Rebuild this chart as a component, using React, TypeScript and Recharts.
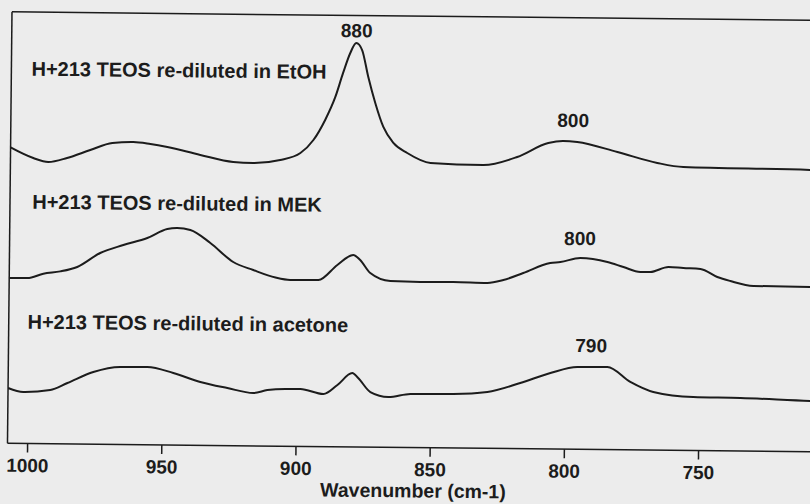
import { LineChart, Line, XAxis, YAxis, ReferenceLine, ReferenceDot, Label } from "recharts";

// wavenumbers (cm-1) and absorbance (offset, arbitrary units)
const etohWavenumber = [1007.5, 999, 993.4, 986.4, 977.8, 969.6, 961.8, 955.4, 949.1, 936.8, 924.5, 917, 907, 899.5, 894.7, 890.4, 886.7, 883.9, 881.3, 879.1, 876.9, 874.5, 871.8, 868.7, 864.9, 859.7, 851, 831.3, 818.7, 807.2, 801.6, 796.4, 781.4, 766.5, 756.8, 709.5, 705];
const etohAbsorbance = [29.6, 28.56, 28.18, 28.6, 29.42, 30.14, 30.26, 30.08, 29.8, 29.04, 28.37, 28.29, 28.62, 29.34, 30.65, 32.67, 34.98, 37.39, 39.39, 40.4, 39.7, 37.01, 34.42, 32.03, 30.44, 29.45, 28.48, 28.33, 29.17, 30.6, 30.82, 30.73, 29.77, 28.72, 28.34, 28.18, 28.15];

const mekWavenumber = [1007.5, 1000.7, 994.8, 988.5, 982.2, 973.7, 965.1, 956.2, 948.8, 945.1, 940.2, 932.7, 924.1, 916.6, 908.3, 902.8, 892.3, 885.3, 879.4, 876.8, 873, 865.5, 854.3, 842, 829.4, 823.4, 816, 806, 802.2, 794.8, 784.7, 778.7, 772.4, 768.7, 761.9, 756.4, 750, 743.7, 738.8, 730.2, 709, 705];
const mekAbsorbance = [16.54, 16.55, 17.0, 17.25, 17.71, 19.13, 19.95, 20.68, 21.6, 21.71, 21.53, 20.25, 18.37, 17.59, 16.86, 16.63, 16.66, 18.18, 19.2, 18.7, 17.41, 16.63, 16.57, 16.6, 16.54, 16.85, 17.57, 18.6, 18.71, 19.13, 18.76, 18.28, 17.8, 17.81, 18.33, 18.24, 18.16, 17.38, 16.99, 16.52, 16.48, 16.47];

const acetoneWavenumber = [1007.5, 1001.8, 991.8, 985.4, 975.8, 965.8, 955.7, 946, 935.9, 925.8, 916.1, 910.9, 904.2, 898.6, 890, 884.8, 879.3, 877.1, 872.5, 865.8, 857.6, 841.6, 828.9, 816.7, 805.5, 795.5, 784.3, 775.7, 767.1, 752.2, 734.6, 708.6, 705];
const acetoneAbsorbance = [5.53, 5.15, 5.38, 6.1, 7.22, 7.75, 7.78, 7.21, 6.34, 5.76, 5.29, 5.6, 5.73, 5.74, 5.26, 6.18, 7.39, 6.9, 5.51, 5.03, 5.36, 5.4, 5.64, 6.57, 7.6, 8.23, 8.26, 6.79, 5.81, 5.35, 5.3, 5.08, 5.06];

const xTicks = [1000, 950, 900, 850, 800, 750];

const seriesNames = ["H+213 TEOS re-diluted in EtOH", "H+213 TEOS re-diluted in MEK", "H+213 TEOS re-diluted in acetone"];
const seriesLabelWavenumber = [1000, 999.2, 1000.5];
const seriesLabelLevel = [37.5, 24.2, 12.2];

const peakLabels = ["880", "800", "800", "790"];
const peakLabelWavenumber = [879, 798, 795, 790.4];
const peakLabelLevel = [41.65, 32.9, 21.1, 10.4];

const Y_MAX = 43.15;
const FONT = "'Liberation Sans', Arial, Helvetica, sans-serif";
const INK = "#1c1c1c";

const toPoints = (wn: number[], abs: number[]) => wn.map((w, i) => ({ wn: w, abs: abs[i] }));

const etohData = toPoints(etohWavenumber, etohAbsorbance);
const mekData = toPoints(mekWavenumber, mekAbsorbance);
const acetoneData = toPoints(acetoneWavenumber, acetoneAbsorbance);

export default function App() {
  return (
    <div style={{ position: "fixed", left: 0, top: 0, width: 810, height: 504, overflow: "hidden", background: "#ececec" }}>
      <div style={{ position: "absolute", left: 0, top: 0, transform: "rotate(0.6deg)", transformOrigin: "405px 252px" }}>
        <LineChart width={830} height={504} margin={{ top: 16, right: 8.6, bottom: 16.5, left: 8.5 }}>
          <XAxis
            dataKey="wn"
            type="number"
            domain={[705, 1007.5]}
            reversed
            allowDataOverflow
            ticks={xTicks}
            height={40}
            tickSize={9}
            tickMargin={6}
            axisLine={{ stroke: INK, strokeWidth: 1.5 }}
            tickLine={{ stroke: INK, strokeWidth: 1.5 }}
            tick={{ fontSize: 19, fontWeight: 700, fill: INK, fontFamily: FONT }}
          >
            <Label value="Wavenumber (cm-1)" position="bottom" offset={-4} style={{ fontSize: 19.5, fontWeight: 700, fill: INK, fontFamily: FONT }} />
          </XAxis>
          <YAxis
            type="number"
            domain={[0, Y_MAX]}
            allowDataOverflow
            width={1}
            tick={false}
            tickLine={false}
            axisLine={{ stroke: INK, strokeWidth: 1.5 }}
          />
          <ReferenceLine y={Y_MAX} stroke={INK} strokeWidth={1.5} />

          <Line data={etohData} dataKey="abs" type="monotone" stroke={INK} strokeWidth={2} dot={false} isAnimationActive={false} />
          <Line data={mekData} dataKey="abs" type="monotone" stroke={INK} strokeWidth={2} dot={false} isAnimationActive={false} />
          <Line data={acetoneData} dataKey="abs" type="monotone" stroke={INK} strokeWidth={2} dot={false} isAnimationActive={false} />

          {seriesNames.map((name, i) => (
            <ReferenceDot
              key={name}
              x={seriesLabelWavenumber[i]}
              y={seriesLabelLevel[i]}
              r={0}
              fill="none"
              stroke="none"
              label={{ value: name, position: "right", offset: 0, fontSize: 20, fontWeight: 700, fill: INK, fontFamily: FONT }}
            />
          ))}
          {peakLabels.map((txt, i) => (
            <ReferenceDot
              key={i}
              x={peakLabelWavenumber[i]}
              y={peakLabelLevel[i]}
              r={0}
              fill="none"
              stroke="none"
              label={{ value: txt, position: "center", fontSize: 19, fontWeight: 700, fill: INK, fontFamily: FONT }}
            />
          ))}
        </LineChart>
      </div>
    </div>
  );
}
